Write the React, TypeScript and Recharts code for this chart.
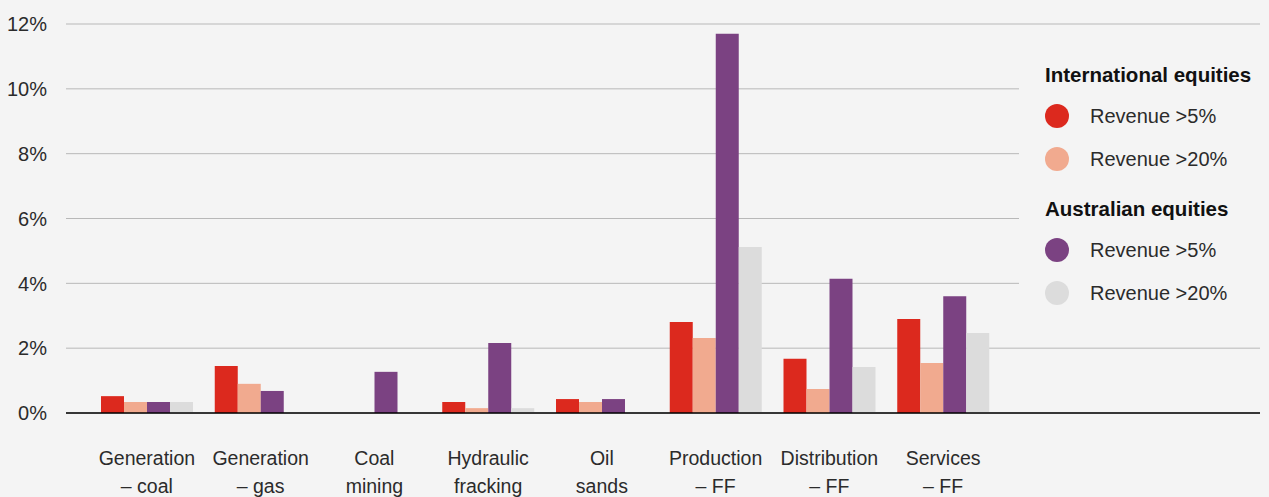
import React from "react";
import { BarChart, Bar, XAxis, YAxis, CartesianGrid, Legend } from "recharts";

const categoryLine1 = ["Generation", "Generation", "Coal", "Hydraulic", "Oil", "Production", "Distribution", "Services"];
const categoryLine2 = ["– coal", "– gas", "mining", "fracking", "sands", "– FF", "– FF", "– FF"];

const intlRev5 = [0.52, 1.45, 0, 0.34, 0.43, 2.81, 1.67, 2.9];
const intlRev20 = [0.34, 0.9, 0, 0.15, 0.34, 2.31, 0.74, 1.54];
const ausRev5 = [0.34, 0.68, 1.27, 2.16, 0.43, 11.7, 4.14, 3.6];
const ausRev20 = [0.34, 0, 0, 0.15, 0, 5.12, 1.42, 2.47];

const yTicks = [0, 2, 4, 6, 8, 10, 12];

const seriesDefs = [
  { key: "intl5", group: "International equities", label: "Revenue >5%", color: "#dc291e", values: intlRev5 },
  { key: "intl20", group: "International equities", label: "Revenue >20%", color: "#f1aa8f", values: intlRev20 },
  { key: "aus5", group: "Australian equities", label: "Revenue >5%", color: "#7b4282", values: ausRev5 },
  { key: "aus20", group: "Australian equities", label: "Revenue >20%", color: "#dcdcdc", values: ausRev20 },
];

const data = categoryLine1.map((c, i) => {
  const row: any = { name: c + " " + categoryLine2[i], idx: i };
  seriesDefs.forEach((s) => (row[s.key] = s.values[i]));
  return row;
});

const FONT = "'Liberation Sans', Arial, Helvetica, sans-serif";
const TEXT = "#2b2b2b";

const XTick = (props: any) => {
  const { x, y, payload } = props;
  const i = payload.index;
  return (
    <g>
      <text x={x} y={y + 52} textAnchor="middle" fontFamily={FONT} fontSize={19.5} fill={TEXT}>
        {categoryLine1[i]}
      </text>
      <text x={x} y={y + 80} textAnchor="middle" fontFamily={FONT} fontSize={19.5} fill={TEXT}>
        {categoryLine2[i]}
      </text>
    </g>
  );
};

const YTick = (props: any) => {
  const { x, y, payload } = props;
  return (
    <text x={x - 19} y={y} dy="0.36em" textAnchor="end" fontFamily={FONT} fontSize={20} fill={TEXT}>
      {payload.value + "%"}
    </text>
  );
};

const LegendContent = () => {
  const rows: { type: "title" | "item"; text: string; color?: string }[] = [];
  let lastGroup = "";
  seriesDefs.forEach((s) => {
    if (s.group !== lastGroup) {
      rows.push({ type: "title", text: s.group });
      lastGroup = s.group;
    }
    rows.push({ type: "item", text: s.label, color: s.color });
  });
  const tops = [25, 66, 109, 159, 200, 243];
  return (
    <div style={{ position: "relative", width: 250, height: 290, background: "#f4f4f4" }}>
      {rows.map((r, i) => (
        <div
          key={i}
          style={{
            position: "absolute",
            left: 26,
            top: tops[i],
            height: 30,
            lineHeight: "30px",
            fontFamily: FONT,
            fontSize: r.type === "title" ? 20.5 : 20,
            fontWeight: r.type === "title" ? 700 : 400,
            color: r.type === "title" ? "#111" : TEXT,
            whiteSpace: "nowrap",
            display: "flex",
            alignItems: "center",
          }}
        >
          {r.type === "item" && (
            <span
              style={{
                display: "inline-block",
                width: 24,
                height: 24,
                borderRadius: 12,
                background: r.color,
                marginRight: 21,
              }}
            />
          )}
          <span>{r.text}</span>
        </div>
      ))}
    </div>
  );
};

export default function App() {
  return (
    <div style={{ position: "absolute", left: 0, top: 0, width: 1269, height: 497, background: "#f4f4f4", overflow: "hidden" }}>
      <BarChart
        width={1269}
        height={497}
        data={data}
        margin={{ top: 24, right: 9, left: 0, bottom: 0 }}
        barSize={23}
        barGap={0}
      >
        <CartesianGrid vertical={false} stroke="#b8b8b8" strokeWidth={1} />
        <XAxis
          dataKey="name"
          height={84}
          tickLine={false}
          tickSize={0}
          tickMargin={0}
          axisLine={{ stroke: "#000", strokeWidth: 1.3 }}
          padding={{ left: 24, right: 260 }}
          tick={<XTick />}
          interval={0}
        />
        <YAxis
          width={66}
          domain={[0, 12]}
          ticks={yTicks}
          tickLine={false}
          tickSize={0}
          tickMargin={0}
          axisLine={false}
          tick={<YTick />}
          allowDataOverflow
        />
        <Legend
          layout="vertical"
          align="center"
          verticalAlign="middle"
          content={<LegendContent />}
          wrapperStyle={{ position: "absolute", left: 1019, top: 35, width: 250, height: 290 }}
        />
        {seriesDefs.map((s) => (
          <Bar key={s.key} dataKey={s.key} name={s.group + " " + s.label} fill={s.color} isAnimationActive={false} />
        ))}
      </BarChart>
    </div>
  );
}
